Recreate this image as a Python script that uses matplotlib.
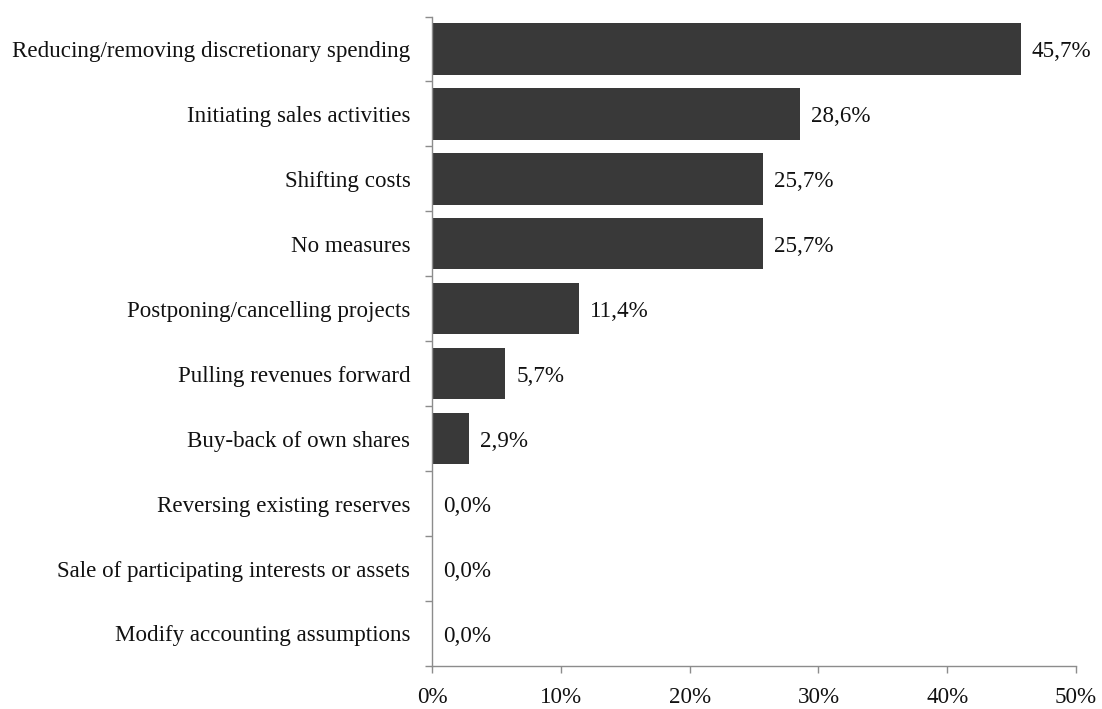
import matplotlib
matplotlib.use("Agg")
import matplotlib.pyplot as plt
from matplotlib.ticker import FuncFormatter

categories = [
    "Reducing/removing discretionary spending",
    "Initiating sales activities",
    "Shifting costs",
    "No measures",
    "Postponing/cancelling projects",
    "Pulling revenues forward",
    "Buy-back of own shares",
    "Reversing existing reserves",
    "Sale of participating interests or assets",
    "Modify accounting assumptions",
]
values = [45.7, 28.6, 25.7, 25.7, 11.4, 5.7, 2.9, 0.0, 0.0, 0.0]
x_ticks = [0, 10, 20, 30, 40, 50]

plt.rcParams["font.family"] = ["Liberation Serif", "DejaVu Serif"]
FS = 16.6

fig = plt.figure(figsize=(11.02, 7.09), dpi=100)
ax = fig.add_axes([0.392, 0.0607, 0.5844, 0.916])

n = len(categories)
pos = list(range(n))
ax.barh(pos, values, height=0.79, color="#393939", edgecolor="none")

# value labels: baseline set so the digits sit centred on each bar
for p, v in zip(pos, values):
    ax.text(v + 0.85, p + 0.125, f"{v:.1f}%".replace(".", ","), va="baseline", ha="left",
            fontsize=FS, color="#111111")

ax.set_ylim(n - 0.5, -0.5)
ax.set_xlim(0, 50)
ax.set_xticks(x_ticks)
ax.xaxis.set_major_formatter(FuncFormatter(lambda v, _: f"{v:.0f}%"))
ax.set_yticks(pos)
ax.set_yticklabels(categories)
ax.set_yticks([i - 0.5 for i in range(n + 1)], minor=True)

grey = "#8c8c8c"
for side in ("top", "right"):
    ax.spines[side].set_visible(False)
for side in ("left", "bottom"):
    ax.spines[side].set_color(grey)
    ax.spines[side].set_linewidth(1.0)

ax.tick_params(axis="y", which="major", length=0, pad=15.5, labelsize=FS, labelcolor="#111111")
ax.tick_params(axis="y", which="minor", length=5, color=grey, width=1.0)
ax.tick_params(axis="x", which="major", length=5, color=grey, width=1.0, pad=10,
               labelsize=FS, labelcolor="#111111")

fig.savefig("out.png", dpi=100, facecolor="white")
